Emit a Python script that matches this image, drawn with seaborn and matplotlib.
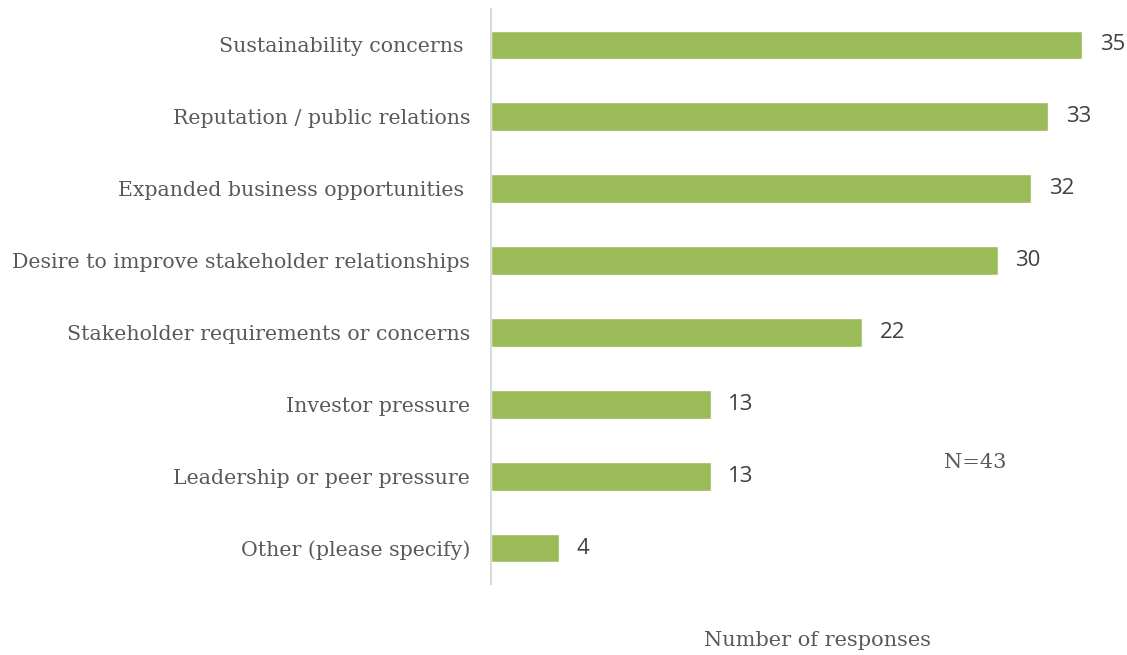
import matplotlib
matplotlib.use("Agg")
import matplotlib.pyplot as plt
import seaborn as sns
import pandas as pd

categories = [
    "Sustainability concerns ",
    "Reputation / public relations",
    "Expanded business opportunities ",
    "Desire to improve stakeholder relationships",
    "Stakeholder requirements or concerns",
    "Investor pressure",
    "Leadership or peer pressure",
    "Other (please specify)",
]
values = [35, 33, 32, 30, 22, 13, 13, 4]
xlabel = "Number of responses"
note = "N=43"

df = pd.DataFrame({"cat": categories, "val": values})

sns.set_theme(style="white")
plt.rcParams["font.family"] = ["DejaVu Serif"]

W, H = 1127, 655
fig = plt.figure(figsize=(W / 100, H / 100), dpi=100)
left, top, bottom = 491, 9, 584
ax = fig.add_axes([left / W, 1 - bottom / H, (W - left) / W, (bottom - top) / H])

sns.barplot(data=df, y="cat", x="val", orient="h", color="#9bbb59",
            saturation=1, width=0.40, ax=ax)

ax.set_xlim(0, (W - left) / ((1082 - 491) / 35))
ax.set_ylim(len(categories) - 0.5, -0.5)
for s in ["top", "right", "bottom"]:
    ax.spines[s].set_visible(False)
ax.spines["left"].set_color("#d9d9d9")
ax.spines["left"].set_linewidth(1.5)
ax.set_xticks([])
ax.set_xlabel("")
ax.set_ylabel("")
ax.tick_params(axis="y", length=0, pad=15, labelsize=14.8, labelcolor="#595959")

for i, v in enumerate(values):
    ax.text(v + 1.05, i, str(v), va="center", ha="left", fontsize=16,
            color="#404040", family=["Open Sans", "DejaVu Sans"])

fig.text(817 / W, 1 - 641 / H, xlabel, ha="center", va="center",
         fontsize=15, color="#595959")
fig.text(975 / W, 1 - 462 / H, note, ha="center", va="center",
         fontsize=15, color="#595959")

fig.savefig("out.png", dpi=100, facecolor="white")
